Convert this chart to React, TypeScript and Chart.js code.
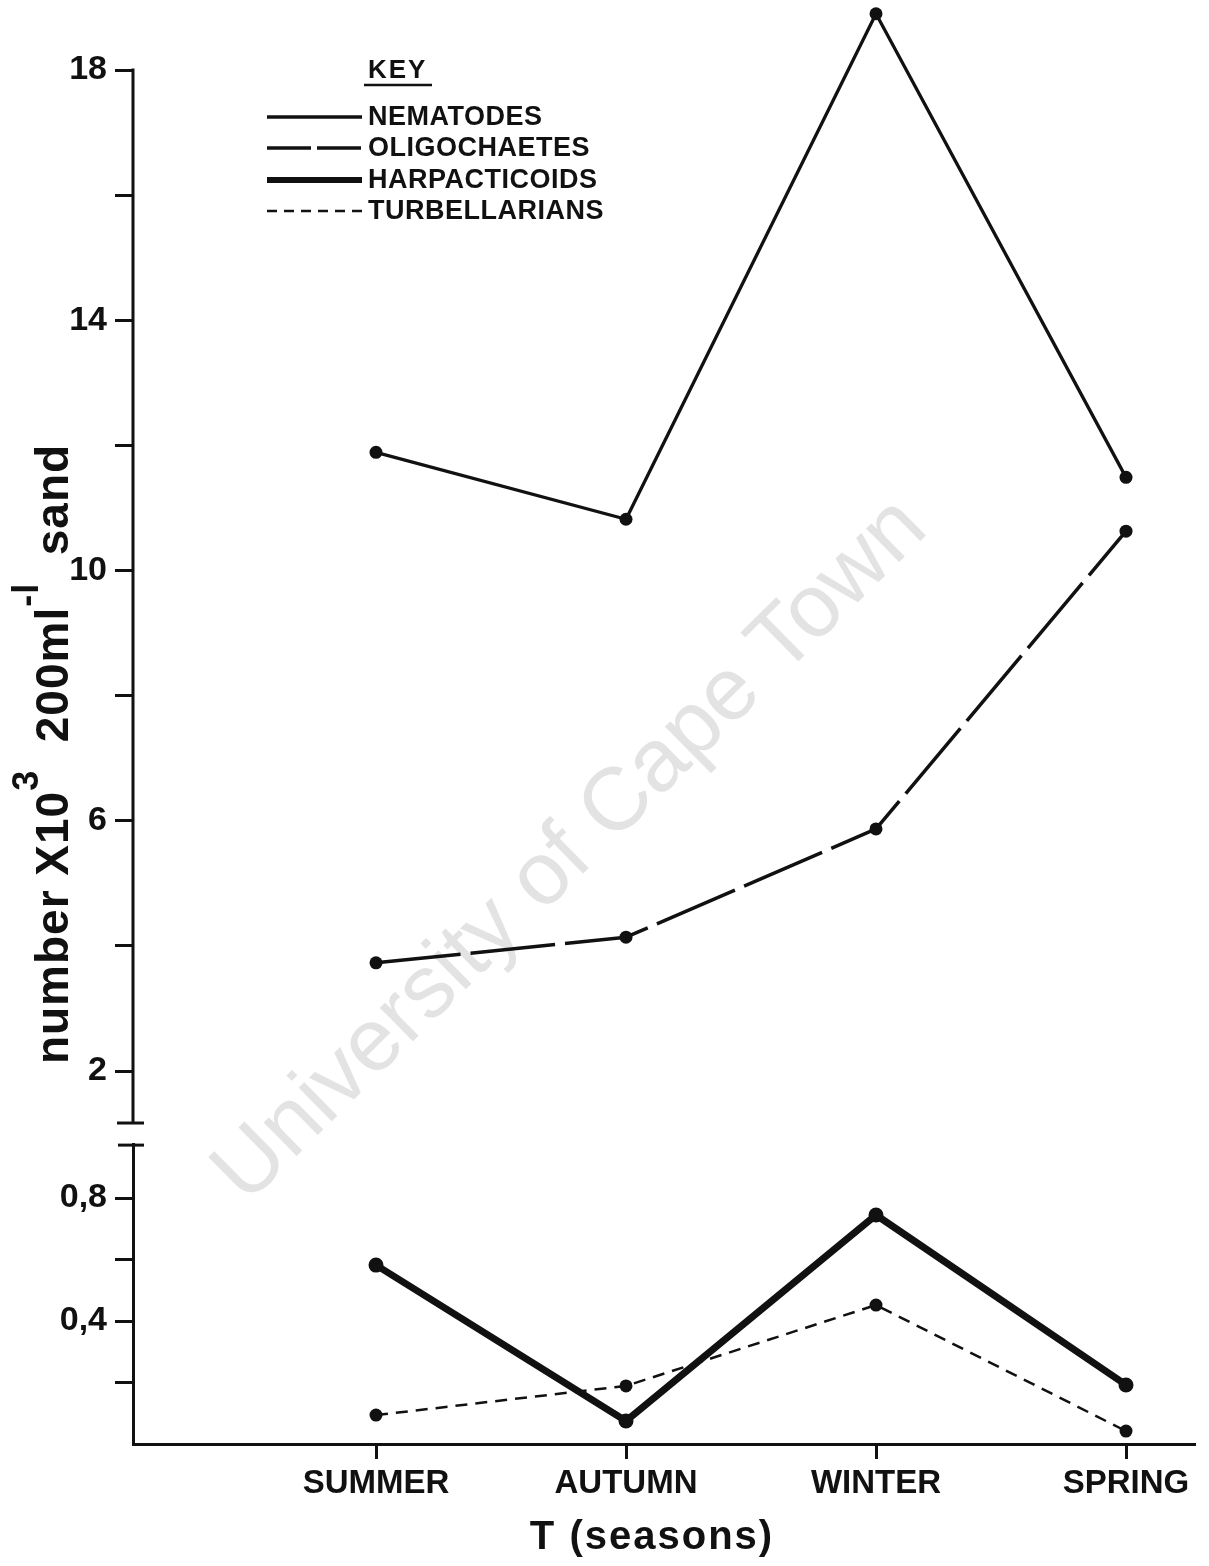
import React, { useEffect, useRef } from "react";
import { Chart, registerables } from "chart.js";

Chart.register(...registerables);

// ---- data ----
const SEASONS = ["SUMMER", "AUTUMN", "WINTER", "SPRING"];
const SEASON_POS = [1, 2, 3, 4];
const NEMATODES = [11.89, 10.82, 18.9, 11.49];
const OLIGOCHAETES = [3.73, 4.14, 5.87, 10.63];
const HARPACTICOIDS = [0.582, 0.075, 0.745, 0.192];
const TURBELLARIANS = [0.094, 0.189, 0.452, 0.042];
const UPPER_TICKS = [2, 4, 6, 8, 10, 12, 14, 16, 18];
const UPPER_LABELED = [2, 6, 10, 14, 18];
const LOWER_TICKS = [0.2, 0.4, 0.6, 0.8];
const LOWER_LABELED = [0.4, 0.8];
const SERIES_LABELS = ["NEMATODES", "OLIGOCHAETES", "HARPACTICOIDS", "TURBELLARIANS"];
const UPPER_BREAK = 1.17;
const UPPER_AXIS_TOP = 18;

const FONT = "'Liberation Sans', Arial, Helvetica, sans-serif";
const INK = "#111111";

const pts = (vals: number[]) => vals.map((v, i) => ({ x: SEASON_POS[i], y: v }));

const fmtComma = (v: number) => String(v).replace(".", ",");

const decor = {
  id: "decor",
  beforeDraw(chart: any) {
    const ctx = chart.ctx;
    ctx.save();
    ctx.fillStyle = "#ffffff";
    ctx.fillRect(0, 0, chart.width, chart.height);
    // watermark
    ctx.translate(571, 851);
    ctx.rotate(-44.6 * Math.PI / 180);
    ctx.font = `89px ${FONT}`;
    ctx.fillStyle = "#e3e3e3";
    ctx.textAlign = "center";
    ctx.textBaseline = "middle";
    ctx.fillText("University of Cape Town", 0, 0);
    ctx.restore();
  },
  afterDraw(chart: any) {
    const ctx = chart.ctx;
    const yU = chart.scales.y;
    const yL = chart.scales.y2;
    const ax = yU.right;
    ctx.save();
    ctx.strokeStyle = INK;
    ctx.fillStyle = INK;
    // upper axis line with break cap
    const top = yU.getPixelForValue(UPPER_AXIS_TOP);
    const brk = yU.getPixelForValue(UPPER_BREAK);
    ctx.lineWidth = 3;
    ctx.lineCap = "butt";
    ctx.beginPath();
    ctx.moveTo(ax, top - 1.5);
    ctx.lineTo(ax, brk);
    ctx.stroke();
    ctx.beginPath();
    ctx.moveTo(ax - 16, brk);
    ctx.lineTo(ax + 11, brk);
    ctx.stroke();
    // lower axis cap
    ctx.beginPath();
    ctx.moveTo(ax - 15, yL.top + 1);
    ctx.lineTo(ax + 11, yL.top + 1);
    ctx.stroke();

    // legend / key
    ctx.font = `bold 26px ${FONT}`;
    ctx.textAlign = "left";
    ctx.textBaseline = "alphabetic";
    (ctx as any).letterSpacing = "2px";
    ctx.fillText("KEY", 368, 78);
    ctx.lineWidth = 2.5;
    ctx.beginPath();
    ctx.moveTo(364, 85);
    ctx.lineTo(432, 85);
    ctx.stroke();
    const ds = chart.data.datasets;
    const rows = [117, 148, 180, 211];
    ctx.font = `bold 27px ${FONT}`;
    (ctx as any).letterSpacing = "0.5px";
    ctx.textBaseline = "middle";
    for (let i = 0; i < ds.length; i++) {
      const d = ds[i];
      const yy = rows[i];
      ctx.lineWidth = Math.min(d.borderWidth, 6);
      ctx.setLineDash(i === 1 ? [44, 6] : i === 3 ? [10, 7] : []);
      ctx.beginPath();
      ctx.moveTo(267, yy);
      ctx.lineTo(362, yy);
      ctx.stroke();
      ctx.setLineDash([]);
      ctx.fillText(d.label, 368, yy + 1);
    }

    // y title with superscripts (rotated)
    ctx.save();
    ctx.translate(68, 754);
    ctx.rotate(-Math.PI / 2);
    ctx.textBaseline = "alphabetic";
    ctx.textAlign = "left";
    (ctx as any).letterSpacing = "1px";
    const main = `bold 46px ${FONT}`;
    const sup = `bold 36px ${FONT}`;
    const parts: [string, string, number][] = [
      ["number X10", main, 0],
      ["3", sup, -30],
      ["  200ml", main, 0],
      ["-l", sup, -30],
      ["  sand", main, 0],
    ];
    let total = 0;
    for (const [t, f] of parts) {
      ctx.font = f;
      total += ctx.measureText(t).width;
    }
    let u = -total / 2;
    for (const [t, f, dv] of parts) {
      ctx.font = f;
      ctx.fillText(t, u, dv);
      u += ctx.measureText(t).width;
    }
    ctx.restore();

    // x title
    ctx.font = `bold 40px ${FONT}`;
    (ctx as any).letterSpacing = "2px";
    ctx.textAlign = "center";
    ctx.textBaseline = "middle";
    ctx.fillText("T (seasons)", 652, 1538);
    ctx.restore();
  },
};

export default function App() {
  const ref = useRef<HTMLCanvasElement | null>(null);

  useEffect(() => {
    document.body.style.margin = "0";
    const canvas = ref.current;
    if (!canvas) return;
    const line = (label: string, data: number[], axis: string, width: number, dash: number[], radius: number) => ({
      label,
      data: pts(data),
      yAxisID: axis,
      borderColor: INK,
      backgroundColor: INK,
      borderWidth: width,
      borderDash: dash,
      borderJoinStyle: "round" as const,
      borderCapStyle: "butt" as const,
      tension: 0,
      pointRadius: radius,
      pointBackgroundColor: INK,
      pointBorderWidth: 0,
      clip: false as any,
    });

    const tickFont = { family: FONT, size: 34, weight: "bold" as const };
    const fitY = (s: any) => {
      s.width = 133;
      s.paddingTop = 0;
      s.paddingBottom = 0;
    };

    const chart = new Chart(canvas, {
      type: "line",
      data: {
        datasets: [
          line(SERIES_LABELS[0], NEMATODES, "y", 3.3, [], 6.5),
          line(SERIES_LABELS[1], OLIGOCHAETES, "y", 3.5, [85, 10], 6.5),
          line(SERIES_LABELS[2], HARPACTICOIDS, "y2", 7, [], 7.5),
          line(SERIES_LABELS[3], TURBELLARIANS, "y2", 2.5, [12, 8], 6.5),
        ],
      },
      options: {
        responsive: false,
        animation: false,
        layout: { padding: { left: 0, top: 2, right: 14, bottom: 0 } },
        plugins: {
          legend: { display: false },
          tooltip: { enabled: false },
          title: { display: false },
        },
        scales: {
          x: {
            type: "linear",
            min: 0.028,
            max: 4.276,
            afterBuildTicks: (s: any) => {
              s.ticks = SEASON_POS.map((v) => ({ value: v }));
            },
            afterFit: (s: any) => {
              s.height = 122;
            },
            ticks: {
              autoSkip: false,
              maxRotation: 0,
              padding: 5,
              color: INK,
              font: { family: FONT, size: 33, weight: "bold" },
              callback: (v: any) => SEASONS[SEASON_POS.indexOf(Number(v))] ?? "",
            },
            grid: { drawOnChartArea: false, drawTicks: true, tickLength: 15, tickWidth: 3, color: INK },
            border: { display: true, color: INK, width: 3 },
          },
          y2: {
            type: "linear",
            position: "left",
            stack: "v",
            stackWeight: 300,
            min: 0,
            max: 0.9756,
            offset: false,
            afterBuildTicks: (s: any) => {
              s.ticks = LOWER_TICKS.map((v) => ({ value: v }));
            },
            afterFit: fitY,
            ticks: {
              autoSkip: false,
              padding: 8,
              color: INK,
              font: tickFont,
              callback: (v: any) => (LOWER_LABELED.includes(Number(v)) ? fmtComma(Number(v)) : ""),
            },
            grid: { drawOnChartArea: false, drawTicks: true, tickLength: 18, tickWidth: 3, color: INK },
            border: { display: true, color: INK, width: 3 },
          },
          y: {
            type: "linear",
            position: "left",
            stack: "v",
            stackWeight: 1137,
            min: 0.833,
            max: 19.0,
            offset: false,
            afterBuildTicks: (s: any) => {
              s.ticks = UPPER_TICKS.map((v) => ({ value: v }));
            },
            afterFit: fitY,
            ticks: {
              autoSkip: false,
              padding: 8,
              color: INK,
              font: tickFont,
              callback: (v: any) => (UPPER_LABELED.includes(Number(v)) ? String(v) : ""),
            },
            grid: { drawOnChartArea: false, drawTicks: true, tickLength: 18, tickWidth: 3, color: INK },
            border: { display: false },
          },
        },
      } as any,
      plugins: [decor],
    });
    return () => chart.destroy();
  }, []);

  return (
    <div style={{ width: 1209, height: 1566 }}>
      <canvas ref={ref} width={1209} height={1566} style={{ display: "block" }} />
    </div>
  );
}
